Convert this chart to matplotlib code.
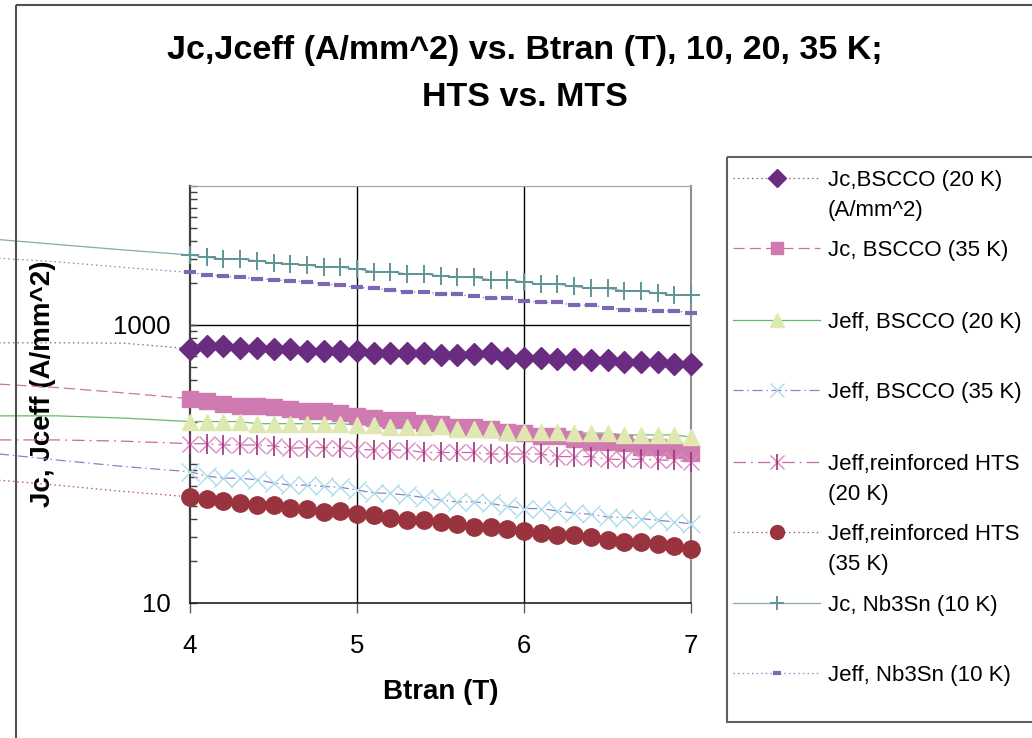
import matplotlib
matplotlib.use("Agg")
import matplotlib.pyplot as plt
from matplotlib.ticker import FixedLocator, LogLocator, NullFormatter
from matplotlib.patches import Rectangle

plt.rcParams['font.family'] = ['Liberation Sans', 'DejaVu Sans']

# transverse field (T) for the points shown on the axis
btran = [4.0, 4.1, 4.2, 4.3, 4.4, 4.5, 4.6, 4.7, 4.8, 4.9, 5.0, 5.1, 5.2, 5.3, 5.4, 5.5,
         5.6, 5.7, 5.8, 5.9, 6.0, 6.1, 6.2, 6.3, 6.4, 6.5, 6.6, 6.7, 6.8, 6.9, 7.0]
# lower-field points (off the axis range, Excel still draws their lines)
btran_low = [2.8, 3.2, 3.6]

jc_bscco_20 = [675, 705, 705, 687, 687, 667, 675, 649, 649, 649, 652, 627, 624, 632, 627, 604,
               604, 614, 624, 581, 581, 581, 565, 565, 556, 558, 540, 540, 540, 520, 520]
jc_bscco_35 = [295, 282, 272, 263, 263, 255, 249, 239, 239, 233, 220, 214, 206, 206, 197, 195,
               184, 184, 178, 171, 167, 159, 158, 151, 145, 143, 141, 133, 133, 126, 120]
jeff_bscco_20 = [202, 202, 202, 202, 195, 195, 195, 195, 195, 195, 191, 191, 184, 184, 186, 187,
                 178, 178, 180, 171, 171, 171, 171, 167, 167, 167, 162, 162, 162, 162, 156]
jeff_bscco_35 = [88, 82, 79, 79, 77, 73, 70.5, 70.5, 69, 68, 65, 62, 61.4, 59.7, 57.4, 55,
                 53.4, 53.4, 52, 49.7, 47.8, 47.8, 45.9, 44.4, 43.5, 41.6, 41.2, 40.5, 39.4, 38.3, 37.2]
jeff_hts_20 = [140, 140, 137, 137, 137, 135, 130, 131, 131, 131, 128, 126, 126, 126, 121, 121,
               121, 121, 118, 118, 118, 118, 113, 113, 113, 108, 108, 108, 107, 106, 104]
jeff_hts_35 = [58, 55.6, 54.3, 52.5, 50.5, 50.5, 48.6, 47.8, 45.2, 45.9, 44.0, 42.8, 41.2, 39.4, 39.8, 38.3,
               36.8, 35.2, 35.2, 34.3, 32.9, 31.9, 30.7, 30.7, 29.8, 28.5, 27.4, 27.4, 26.7, 25.5, 24.6]
jc_nb3sn_10 = [3190, 3070, 2985, 2985, 2900, 2790, 2750, 2700, 2600, 2600, 2530, 2420, 2420, 2330, 2330, 2260,
               2200, 2200, 2115, 2115, 2046, 1968, 1968, 1895, 1833, 1833, 1762, 1762, 1695, 1641, 1641]
jeff_nb3sn_10 = [2390, 2290, 2250, 2200, 2150, 2115, 2080, 2046, 1968, 1936, 1864, 1833, 1791, 1733, 1733, 1667,
                 1667, 1604, 1552, 1552, 1491, 1452, 1452, 1388, 1388, 1336, 1283, 1283, 1262, 1262, 1229]

jc_bscco_20_low = [745, 745, 740]
jc_bscco_35_low = [379, 355, 325]
jeff_bscco_20_low = [222, 222, 214]
jeff_bscco_35_low = [120, 107, 96]
jeff_hts_20_low = [149, 149, 146]
jeff_hts_35_low = [77.5, 70.5, 63.5]
jc_nb3sn_10_low = [4170, 3800, 3470]
jeff_nb3sn_10_low = [3050, 2850, 2600]

labels = ['Jc,BSCCO (20 K)\n(A/mm^2)', 'Jc, BSCCO (35 K)', 'Jeff, BSCCO (20 K)', 'Jeff, BSCCO (35 K)',
          'Jeff,reinforced HTS\n(20 K)', 'Jeff,reinforced HTS\n(35 K)', 'Jc, Nb3Sn (10 K)', 'Jeff, Nb3Sn (10 K)']

dotted = (0, (1.2, 2.5))
series = [
    (jc_bscco_20_low, jc_bscco_20, dict(color='#8a5aa0', ls=dotted),
     [dict(marker='D', ms=11, mfc='#6a2c80', mec='#6a2c80')]),
    (jc_bscco_35_low, jc_bscco_35, dict(color='#d070b0', ls=(0, (9, 4))),
     [dict(marker='s', ms=11, mfc='#d07ab2', mec='#d07ab2')]),
    (jeff_bscco_20_low, jeff_bscco_20, dict(color='#66bb66', ls='-'),
     [dict(marker='^', ms=12, mfc='#dfe8b0', mec='#dfe8b0')]),
    (jeff_bscco_35_low, jeff_bscco_35, dict(color='#9080c8', ls=(0, (8, 3, 1.2, 3))),
     [dict(marker='x', ms=13, mec='#aadcec', mew=1)]),
    (jeff_hts_20_low, jeff_hts_20, dict(color='#c868a8', ls=(0, (10, 4, 1.5, 4))),
     [dict(marker='x', ms=12, mec='#d98cc0', mew=1), dict(marker='|', ms=14, mec='#a0307a', mew=1.2)]),
    (jeff_hts_35_low, jeff_hts_35, dict(color='#b05560', ls=dotted),
     [dict(marker='o', ms=12.5, mfc='#99333d', mec='#99333d')]),
    (jc_nb3sn_10_low, jc_nb3sn_10, dict(color='#88aaaa', ls='-'),
     [dict(marker='+', ms=13, mec='#5f9595', mew=1.4)]),
    (jeff_nb3sn_10_low, jeff_nb3sn_10, dict(color='#9080c8', ls=dotted),
     [dict(marker='_', ms=8, mec='#7a68b4', mew=3)]),
]

fig = plt.figure(figsize=(10.32, 7.38), dpi=100)
ax = fig.add_axes([190 / 1032, 1 - 603 / 738, 501 / 1032, 417 / 738])

ax.set_yscale('log')
for low, vals, lstyle, mstyles in series:
    ax.plot(btran_low + btran, low + vals, lw=0.9, clip_on=False, zorder=3, **lstyle)
    for m in mstyles:
        ax.plot(btran, vals, ls='none', clip_on=False, zorder=4, **m)

ax.set_xlim(4, 7)
ax.set_ylim(10, 10000)
ax.set_xticks([4, 5, 6, 7])
ax.yaxis.set_major_locator(FixedLocator([10, 1000]))
ax.yaxis.set_minor_locator(LogLocator(base=10, subs=range(1, 10), numticks=20))
ax.yaxis.set_minor_formatter(NullFormatter())
ax.set_yticklabels(['10', '1000'])
ax.tick_params(axis='y', which='both', direction='in', length=5, width=1, color='#404040',
               labelsize=18.5, pad=14)
ax.tick_params(axis='x', direction='out', length=7, width=1, color='#606060',
               labelsize=18.5, pad=15)
ax.axhline(1000, color='black', lw=1, zorder=1)
for xv in [5, 6]:
    ax.axvline(xv, color='black', lw=1, zorder=1)

ax.spines['left'].set_color('#404040')
ax.spines['left'].set_linewidth(1.6)
ax.spines['bottom'].set_color('#202020')
ax.spines['bottom'].set_linewidth(1.2)
ax.spines['top'].set_color('#a0a0a0')
ax.spines['right'].set_color('#909090')
ax.spines['right'].set_linewidth(1.5)

ax.set_xlabel('Btran (T)', fontsize=20, fontweight='bold')
ax.xaxis.label.set_va('center')
ax.xaxis.set_label_coords(0.5, -0.213)
ax.set_ylabel('Jc, Jceff (A/mm^2)', fontsize=20, fontweight='bold')
ax.yaxis.label.set_va('center')
ax.yaxis.set_label_coords(-0.293, 0.525)

fig.text(0.509, 1 - 51 / 738, 'Jc,Jceff (A/mm^2) vs. Btran (T), 10, 20, 35 K;',
         ha='center', va='center', fontsize=24.5, fontweight='bold')
fig.text(0.509, 1 - 98 / 738, 'HTS vs. MTS',
         ha='center', va='center', fontsize=24.5, fontweight='bold')

# overlay in pixel units for the chart border and the legend box
ov = fig.add_axes([0, 0, 1, 1], zorder=5)
ov.set_xlim(0, 1032)
ov.set_ylim(738, 0)
ov.axis('off')
ov.add_patch(Rectangle((16, 5), 1100, 800, fill=False, ec='#505050', lw=1.5))
ov.add_patch(Rectangle((727, 157), 400, 565, fill=False, ec='#606060', lw=1.5))

entry_y = [178, 248, 320, 390, 462, 532, 603, 673]
for (low, vals, lstyle, mstyles), lab, ey in zip(series, labels, entry_y):
    ov.plot([733, 820], [ey, ey], lw=0.9, **lstyle)
    for m in mstyles:
        mm = dict(m)
        mm['ms'] = mm['ms'] * 0.8
        ov.plot([777], [ey], ls='none', **mm)
    # Excel keeps the first text line level with the key, extra lines go below
    for k, line in enumerate(lab.split('\n')):
        ov.text(828, ey + 30 * k, line, ha='left', va='center_baseline', fontsize=16)

fig.savefig('out.png', dpi=100)
